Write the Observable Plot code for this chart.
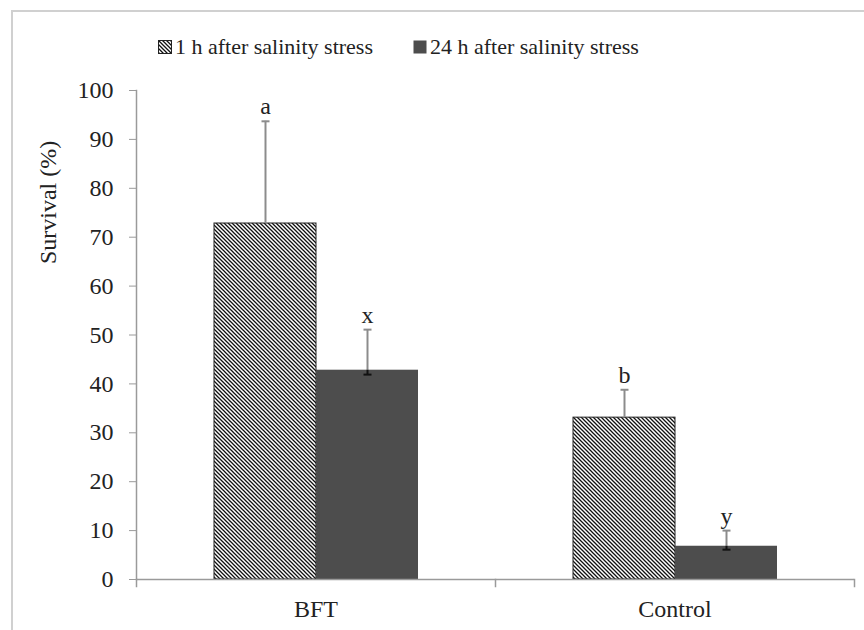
<!DOCTYPE html>
<html>
<head>
<meta charset="utf-8">
<script src="https://cdn.jsdelivr.net/npm/d3@7"></script>
<script src="https://cdn.jsdelivr.net/npm/@observablehq/plot@0.6"></script>
<style>
  body { margin: 0; background: #fff; }
  #wrap { position: relative; width: 864px; height: 630px; overflow: hidden;
          font-family: "Times New Roman", "Liberation Serif", "DejaVu Serif", serif; color: #222; }
  #border { position: absolute; left: 11px; top: 10px; width: 900px; height: 700px;
            border: 2px solid #d0d0d0; box-sizing: border-box; }
  #chart { position: absolute; left: 0; top: 0; }
  #chart svg text { font-family: "Times New Roman", "Liberation Serif", "DejaVu Serif", serif; }
  #legend { position: absolute; top: 35px; left: 158px; display: flex; align-items: center;
            font-size: 22px; line-height: 24px; white-space: nowrap; }
  #legend .item { display: flex; align-items: center; }
  #legend .item + .item { margin-left: 40px; }
  #legend svg { margin-right: 3px; }
  #defs { position: absolute; width: 0; height: 0; }
</style>
</head>
<body>
<svg id="defs" aria-hidden="true">
  <defs>
    <pattern id="hatch" patternUnits="userSpaceOnUse" width="4" height="4">
      <rect width="4" height="4" fill="#fff"/>
      <path d="M0,0L4,4M-1,3L1,5M3,-1L5,1" stroke="#111" stroke-width="1.3"/>
    </pattern>
  </defs>
</svg>
<div id="wrap">
  <div id="border"></div>
  <div id="chart"></div>
  <div id="legend"></div>
</div>
<script>
// Survival after salinity stress, by rearing system
const categories = ["BFT", "Control"];
const seriesNames = ["1 h after salinity stress", "24 h after salinity stress"];
const hour1 = [72.8, 33.1];
const hour1Upper = [93.7, 38.8];
const hour24 = [42.8, 6.8];
const hour24Upper = [51.1, 10.0];
const hour24Lower = [41.9, 6.1];
const hour1Letters = ["a", "b"];
const hour24Letters = ["x", "y"];
const yTicks = [0, 10, 20, 30, 40, 50, 60, 70, 80, 90, 100];
const yTitle = "Survival (%)";
const yTitleAt = 64.5;

const serif = "'Times New Roman', 'Liberation Serif', 'DejaVu Serif', serif";
const hatchFill = "url(#hatch)";
const darkFill = "#4d4d4d";
const axisGray = "#9a9a9a";
const errGray = "#8c8c8c";

const W = 864, H = 630;
const M = {top: 90, right: 10, bottom: 51, left: 135};
const plotHeight = H - M.top - M.bottom;
const edgeTick = 7;

const rows = [];
categories.forEach((c, i) => {
  rows.push({category: c, series: seriesNames[0], value: hour1[i], upper: hour1Upper[i], lower: hour1[i], letter: hour1Letters[i]});
  rows.push({category: c, series: seriesNames[1], value: hour24[i], upper: hour24Upper[i], lower: hour24Lower[i], letter: hour24Letters[i]});
});
const hatched = rows.filter(d => d.series === seriesNames[0]);
const solid = rows.filter(d => d.series === seriesNames[1]);

// horizontal cap for error bars, half-length equal to the dot radius
const cap = {
  draw(context, size) {
    const r = Math.sqrt(size / Math.PI);
    context.moveTo(-r, 0);
    context.lineTo(r, 0);
  }
};

const chart = Plot.plot({
  width: W,
  height: H,
  marginTop: M.top,
  marginBottom: M.bottom,
  marginLeft: M.left,
  marginRight: M.right,
  style: {fontFamily: serif, fontSize: "24px", color: "#222", background: "transparent", overflow: "visible"},
  fx: {domain: categories, padding: 0, label: null},
  x: {domain: seriesNames, paddingInner: 0, paddingOuter: 0.745, axis: null},
  y: {domain: [0, 100], axis: null},
  color: {domain: seriesNames, range: [hatchFill, darkFill]},
  marks: [
    Plot.barY(hatched, {fx: "category", x: "series", y: "value", fill: "series", stroke: "#222", strokeWidth: 1}),
    Plot.barY(solid, {fx: "category", x: "series", y: "value", fill: "series"}),
    Plot.ruleY([0], {stroke: axisGray, strokeWidth: 1.5}),
    Plot.frame({anchor: "left", facet: "super", stroke: axisGray, strokeWidth: 1.5}),
    // category-boundary ticks below the baseline
    Plot.frame({anchor: "left", insetTop: plotHeight, insetBottom: -edgeTick, stroke: axisGray, strokeWidth: 1.5}),
    Plot.frame({anchor: "right", facet: "super", insetTop: plotHeight, insetBottom: -edgeTick, stroke: axisGray, strokeWidth: 1.5}),
    Plot.axisY({ticks: yTicks, tickSize: 7, tickPadding: 16, stroke: axisGray, fill: "#222", label: null, tickFormat: d => d}),
    Plot.axisFx({anchor: "bottom", tickSize: 0, tickPadding: 20, label: null, fill: "#222"}),
    // error bars: upper arm in grey, lower arm (inside the dark bar) in black
    Plot.ruleX(rows, {fx: "category", x: "series", y1: "value", y2: "upper", stroke: errGray, strokeWidth: 2}),
    Plot.dot(rows, {fx: "category", x: "series", y: "upper", r: 4, symbol: cap, stroke: errGray, strokeWidth: 2, fill: "none"}),
    Plot.ruleX(solid, {fx: "category", x: "series", y1: "lower", y2: "value", stroke: "#111", strokeWidth: 2}),
    Plot.dot(solid, {fx: "category", x: "series", y: "lower", r: 4, symbol: cap, stroke: "#111", strokeWidth: 2, fill: "none"}),
    Plot.text(rows, {fx: "category", x: "series", y: "upper", text: "letter", lineAnchor: "bottom", dy: -7, fontSize: 24, fill: "#222"}),
    Plot.text([yTitle], {fx: [categories[0]], y: [yTitleAt], text: d => d, frameAnchor: "left", dx: -88, rotate: -90, fontSize: 24, fill: "#222"})
  ]
});
document.getElementById("chart").append(chart);

// legend
const legend = d3.select("#legend");
[hatchFill, darkFill].forEach((fill, i) => {
  const item = legend.append("div").attr("class", "item");
  const sw = item.append("svg").attr("width", 14).attr("height", 14);
  sw.append("rect").attr("x", 0.5).attr("y", 0.5).attr("width", 13).attr("height", 13)
    .attr("fill", fill).attr("stroke", i === 0 ? "#222" : "none");
  item.append("span").text(seriesNames[i]);
});
</script>
</body>
</html>
